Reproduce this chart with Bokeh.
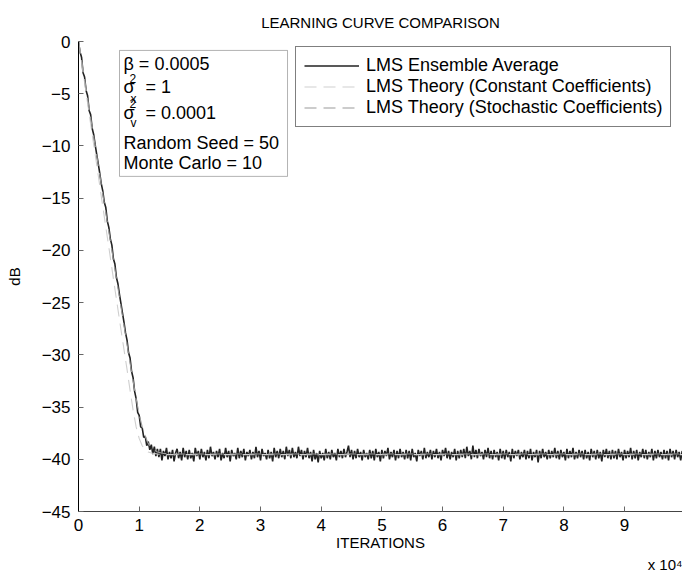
import numpy as np
from bokeh.plotting import figure
from bokeh.models import Range1d, FixedTicker, Label, BoxAnnotation, Legend, LegendItem, Title
from bokeh.embed import file_html
from bokeh.resources import INLINE

# ---------------- data (x in units of 10^4 iterations) ----------------
x_ticks = [0, 1, 2, 3, 4, 5, 6, 7, 8, 9]
y_ticks = [-45, -40, -35, -30, -25, -20, -15, -10, -5, 0]
y_tick_labels = ["\u221245", "\u221240", "\u221235", "\u221230", "\u221225",
                 "\u221220", "\u221215", "\u221210", "\u22125", "0"]

ensemble_step = 0.025
ensemble_db = [
    0.0, -1.0, -1.5, -3.0, -3.4, -4.7, -5.2, -6.6, -7.0, -8.3,
    -8.9, -9.9, -10.8, -11.7, -12.6, -13.6, -14.3, -15.4, -15.9, -17.2,
    -17.8, -18.9, -19.5, -20.8, -21.3, -22.6, -23.2, -24.2, -25.1, -26.0,
    -26.9, -27.9, -28.6, -29.8, -30.3, -31.6, -32.2, -33.5, -34.2, -35.5,
    -35.8, -36.9, -37.0, -37.9, -37.8, -38.7, -38.3, -39.1, -38.6, -39.5,
    -38.8, -39.7, -39.0,
    -39.8, -39.0, -40.1, -39.2, -39.7, -38.9, -40.0, -39.3, -39.9, -39.1, -40.2, -39.4, -39.0, -39.9, -39.3, -40.1, -38.9, -39.8, -39.2, -40.0,
    -39.1, -39.9, -39.4, -40.2, -38.9, -39.7, -39.2, -40.0, -39.0, -39.8, -39.3, -40.1, -39.1, -39.9, -38.8, -39.7, -39.3, -40.0, -39.2, -39.8,
    -39.0, -40.1, -39.4, -39.9, -38.9, -39.8, -39.2, -40.2, -39.1, -39.7, -39.4, -40.0, -38.9, -39.9, -39.2, -39.8, -39.0, -40.1, -39.3, -39.7,
    -39.1, -40.0, -39.3, -39.9, -38.8, -39.8, -39.2, -40.1, -39.0, -39.7, -39.4, -40.0, -39.1, -39.9, -39.3, -40.2, -38.9, -39.8, -39.2, -39.9,
    -39.0, -39.8, -39.2, -40.0, -38.8, -39.7, -39.1, -39.9, -38.9, -39.8, -39.3, -39.9, -38.8, -39.7, -39.1, -40.0, -39.2, -39.8, -38.9, -39.9,
    -39.3, -40.2, -39.1, -40.0, -39.4, -40.3, -39.2, -39.9, -39.4, -40.1, -39.0, -39.9, -39.3, -40.0, -39.1, -39.8, -39.4, -40.1, -39.0, -39.8,
    -39.2, -39.9, -39.0, -39.8, -39.3, -38.7, -39.8, -39.1, -40.0, -39.2, -39.9, -39.0, -39.8, -39.3, -40.1, -39.1, -39.8, -39.4, -40.0, -39.1,
    -39.9, -39.2, -40.1, -39.0, -39.8, -39.3, -40.2, -39.1, -39.9, -39.2, -39.7, -38.9, -40.0, -39.3, -39.8, -39.1, -40.1, -39.2, -39.9, -39.0,
    -39.8, -39.3, -40.0, -39.1, -39.9, -39.2, -40.1, -39.0, -39.8, -39.4, -40.2, -39.1, -39.7, -39.2, -40.0, -38.9, -39.9, -39.3, -39.8, -39.1,
    -40.0, -39.2, -39.8, -39.0, -39.9, -39.3, -40.1, -39.1, -39.7, -38.9, -39.9, -39.2, -40.0, -39.3, -39.8, -39.0, -40.1, -39.2, -39.9, -39.1,
    -39.8, -39.0, -39.9, -38.8, -39.7, -39.2, -40.0, -38.7, -39.8, -39.1, -39.9, -39.0, -39.7, -39.3, -40.0, -39.1, -39.8, -38.9, -39.9, -39.2,
    -40.0, -39.1, -39.8, -39.3, -40.1, -39.0, -39.9, -39.2, -40.0, -39.1, -39.8, -39.3, -40.2, -39.0, -39.9, -39.2, -39.7, -39.1, -40.0, -39.3,
    -39.8, -39.1, -40.0, -39.2, -39.9, -39.0, -40.1, -39.3, -39.8, -39.1, -40.3, -39.2, -39.9, -39.0, -39.8, -39.3, -40.0, -39.1, -39.9, -39.2,
    -39.8, -38.9, -39.9, -39.2, -40.0, -39.1, -39.8, -39.3, -40.1, -39.0, -39.9, -39.2, -39.8, -38.9, -40.0, -39.3, -39.9, -39.1, -39.8, -39.2,
    -40.0, -39.1, -39.9, -39.3, -40.1, -39.0, -39.8, -39.2, -40.0, -39.1, -39.9, -39.3, -40.2, -39.1, -39.8, -39.0, -39.9, -39.2, -40.0, -39.1,
    -39.9, -39.2, -40.0, -39.0, -39.8, -39.3, -40.1, -39.1, -39.9, -39.2, -39.8, -38.9, -40.0, -39.2, -39.9, -39.1, -40.1, -39.3, -39.8, -39.0,
    -39.9, -39.1, -40.0, -39.3, -39.8, -39.0, -40.1, -39.2, -39.9, -39.1, -39.8, -39.3, -40.0, -39.1, -39.9, -39.2, -40.1, -39.0, -39.8, -39.2,
    -40.0, -39.1, -39.8, -39.3, -40.1, -39.2,
]
ensemble_x = [round(i * ensemble_step, 3) for i in range(len(ensemble_db))]

theory_x = [0.0, 0.1, 0.2, 0.3, 0.4, 0.5, 0.6, 0.7, 0.8, 0.85, 0.9, 0.95,
            1.0, 1.05, 1.1, 1.15, 1.2, 1.3, 1.4, 1.6, 2.0, 9.955]
theory_const_db = [0.0, -3.9, -7.9, -11.8, -15.8, -19.7, -23.7, -27.6, -31.4,
                   -33.4, -35.3, -36.9, -38.0, -38.7, -39.1, -39.3, -39.4,
                   -39.5, -39.55, -39.55, -39.55, -39.55]
theory_stoch_db = [0.0, -3.6, -7.3, -10.9, -14.6, -18.2, -21.8, -25.4, -29.0,
                   -30.8, -32.5, -34.2, -35.7, -36.9, -37.8, -38.5, -38.9,
                   -39.3, -39.45, -39.5, -39.5, -39.5]

legend_labels = ["LMS Ensemble Average",
                 "LMS Theory (Constant Coefficients)",
                 "LMS Theory (Stochastic Coefficients)"]

FONT = "Liberation Sans"

p = figure(width=682, height=572, output_backend="svg", toolbar_location=None,
           x_range=Range1d(0, 9.955), y_range=Range1d(-45, 0),
           title="LEARNING CURVE COMPARISON",
           min_border_left=78, min_border_right=0, min_border_top=40,
           min_border_bottom=58)
p.background_fill_color = "white"
p.border_fill_color = "white"
p.outline_line_color = None
p.grid.visible = False

p.title.align = "center"
p.title.text_font = FONT
p.title.text_font_size = "15px"
p.title.text_font_style = "normal"
p.title.text_color = "black"
p.title.standoff = 22

for ax in (p.xaxis[0], p.yaxis[0]):
    ax.major_label_text_font = FONT
    ax.major_label_text_font_size = "17px"
    ax.major_label_text_color = "black"
    ax.axis_label_text_font = FONT
    ax.axis_label_text_font_size = "15px"
    ax.axis_label_text_font_style = "normal"
    ax.axis_label_text_color = "black"
    ax.major_tick_in = 5
    ax.major_tick_out = 0
    ax.minor_tick_in = 0
    ax.minor_tick_out = 0
    ax.major_tick_line_color = "#666666"
    ax.major_label_standoff = 8

p.xaxis.ticker = FixedTicker(ticks=x_ticks)
p.yaxis.ticker = FixedTicker(ticks=y_ticks)
p.yaxis.major_label_overrides = {t: s for t, s in zip(y_ticks, y_tick_labels)}
p.xaxis.axis_label = "ITERATIONS"
p.yaxis.axis_label = "dB"
p.xaxis.major_label_standoff = 7
p.xaxis.axis_label_standoff = 0
p.yaxis.axis_label_standoff = 16
p.xaxis.axis_line_color = "#444444"
p.yaxis.axis_line_color = "black"

# multiplier "x 10^4" below the axis, right aligned
mult = Title(text="x 10\u2074", align="right", text_font=FONT,
             text_font_size="15px", text_font_style="normal",
             text_color="black", standoff=0, text_line_height=0.8)
p.add_layout(mult, "below")

r_ens = p.line(ensemble_x, ensemble_db, line_color="#222222", line_width=1.6)
r_const = p.line(theory_x, theory_const_db, line_color="#cfcfcf", line_width=1.1,
                 line_dash="12 7")
r_stoch = p.line(theory_x, theory_stoch_db, line_color="#9a9a9a", line_width=1.1,
                 line_dash="12 7")

legend = Legend(items=[LegendItem(label=legend_labels[0], renderers=[r_ens]),
                       LegendItem(label=legend_labels[1], renderers=[r_const]),
                       LegendItem(label=legend_labels[2], renderers=[r_stoch])],
                location=(217, 384))
legend.label_text_font = FONT
legend.label_text_font_size = "18px"
legend.label_text_color = "black"
legend.label_height = 19
legend.glyph_height = 19
legend.glyph_width = 55
legend.label_standoff = 7
legend.spacing = 0
legend.padding = 8
legend.margin = 0
legend.border_line_color = "black"
legend.border_line_width = 1
legend.background_fill_color = "white"
legend.background_fill_alpha = 1.0
p.add_layout(legend)

# info box
p.add_layout(BoxAnnotation(left=0.676, right=3.445, top=-0.855, bottom=-12.915,
                           fill_color="white", fill_alpha=1.0,
                           line_color="black", line_width=1))

def lab(x, y, text, size="18px"):
    p.add_layout(Label(x=x, y=y, text=text, text_font=FONT, text_font_size=size,
                       text_color="black", text_baseline="middle",
                       text_align="left"))

lab(0.742, -2.18, "\u03b2 = 0.0005")
lab(0.742, -4.37, "\u03c3")
lab(0.84, -3.51, "2", "12px")
lab(0.857, -5.51, "x", "12px")
lab(1.104, -4.37, "= 1")
lab(0.742, -6.84, "\u03c3")
lab(0.84, -5.98, "2", "12px")
lab(0.857, -7.79, "v", "12px")
lab(1.104, -6.84, "= 0.0001")
lab(0.742, -9.69, "Random Seed = 50")
lab(0.742, -11.68, "Monte Carlo = 10")

open("out.html", "w").write(file_html(p, INLINE))
